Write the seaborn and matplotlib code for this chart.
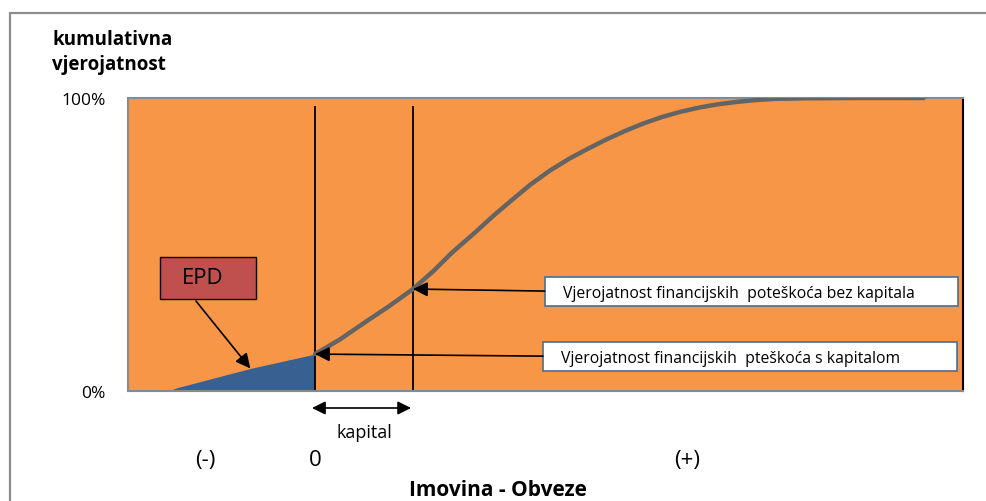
import seaborn as sns
import matplotlib.pyplot as plt
from matplotlib.patches import Rectangle
from matplotlib.lines import Line2D

# x axis: assets - liabilities, in units of capital (0 = no capital, 1 = capital)
# y axis: cumulative probability in %
curve_x = [0.0, 0.25, 0.53, 0.75, 1.0, 1.21, 1.4, 1.63, 1.82, 2.01, 2.2, 2.4, 2.6, 2.78,
           2.97, 3.16, 3.35, 3.54, 3.73, 3.93, 4.1, 4.31, 4.5, 4.69, 5.0, 5.5, 6.21]
curve_y = [12.6, 17.5, 23.9, 28.8, 34.8, 41.0, 47.3, 54.0, 59.8, 65.2, 70.5, 75.3, 79.4, 82.6,
           85.8, 88.7, 91.3, 93.5, 95.3, 96.8, 97.8, 98.7, 99.3, 99.7, 99.9, 100.0, 100.0]

# expected policyholder deficit area (left of zero)
epd_x = [-1.5, -1.4, -0.66, 0.0]
epd_y = [0.0, 1.2, 7.7, 12.6]

vline_x = [0.0, 1.0]
vline_top = 97.3

y_ticks = [0, 100]
y_labels = ["0%", "100%"]
x_ticks = [-1.12, 0.0, 3.8]
x_labels = ["(-)", "0", "(+)"]

ORANGE = "#F79646"
BLUE = "#386192"
GREY = "#646464"
RED = "#C0504D"
BOX_EDGE = "#4A6E96"

sns.set_theme(style="white")
plt.rcParams['font.family'] = ['Open Sans', 'DejaVu Sans']
plt.rcParams['text.color'] = 'black'
plt.rcParams['xtick.color'] = 'black'
plt.rcParams['ytick.color'] = 'black'
plt.rcParams['axes.labelcolor'] = 'black'

W, H = 987, 502
fig = plt.figure(figsize=(W / 100, H / 100), dpi=100)
ax = fig.add_axes([128 / W, (H - 392) / H, (963 - 128) / W, 293 / H])
ax.set_facecolor(ORANGE)

# EPD area and cumulative curve
ax.fill_between(epd_x, 0, epd_y, color=BLUE, linewidth=0, zorder=2)
sns.lineplot(x=curve_x, y=curve_y, ax=ax, color=GREY, linewidth=3.2, zorder=3)
ax.vlines(vline_x, 0, vline_top, color="black", linewidth=1.3, zorder=2)

ax.set_xlim(-1.908, 6.612)
ax.set_ylim(0, 100)

ax.set_yticks(y_ticks, y_labels, fontsize=12.5)
ax.set_xticks(x_ticks, x_labels, fontsize=16)
ax.tick_params(axis='y', length=0, pad=16)
ax.tick_params(axis='x', length=0, pad=42)

for side in ['top', 'left', 'bottom']:
    ax.spines[side].set_color("#8a8a8a")
    ax.spines[side].set_linewidth(1.5)
ax.spines['right'].set_color("black")
ax.spines['right'].set_linewidth(1.5)

ax.set_xlabel("Imovina - Obveze", fontsize=15, fontweight='bold')
ax.xaxis.set_label_coords(0.443, -0.30)

# EPD box and arrow
ax.add_patch(Rectangle((0.038, 0.314), 0.115, 0.143, transform=ax.transAxes,
                       facecolor=RED, edgecolor="black", linewidth=1.0, zorder=4))
ax.text(0.090, 0.386, "EPD", transform=ax.transAxes, ha='center', va='center',
        fontsize=16, zorder=5)
ax.annotate("", xy=(epd_x[2], epd_y[2]), xycoords='data',
            xytext=(0.0814, 0.307), textcoords='axes fraction',
            arrowprops=dict(arrowstyle='-|>', color='black', lw=1.2,
                            mutation_scale=22, shrinkA=0, shrinkB=0), zorder=5)

# explanation boxes
boxes = [
    ((0.499, 0.290, 0.495, 0.099), "Vjerojatnost financijskih  poteškoća bez kapitala",
     (0.499, 0.341), (curve_x[4], curve_y[4])),
    ((0.497, 0.068, 0.496, 0.099), "Vjerojatnost financijskih  pteškoća s kapitalom",
     (0.497, 0.119), (curve_x[0], curve_y[0])),
]
for (bx, by, bw, bh), label, tail, head in boxes:
    ax.add_patch(Rectangle((bx, by), bw, bh, transform=ax.transAxes,
                           facecolor="white", edgecolor=BOX_EDGE, linewidth=1.2, zorder=4))
    ax.text(bx + 0.022, by + bh / 2 - 0.005, label, transform=ax.transAxes,
            ha='left', va='center', fontsize=11.3, zorder=5)
    ax.annotate("", xy=head, xycoords='data', xytext=tail, textcoords='axes fraction',
                arrowprops=dict(arrowstyle='-|>', color='black', lw=1.2,
                                mutation_scale=22, shrinkA=0, shrinkB=0), zorder=5)

# capital double arrow below the axis
ax.annotate("", xy=(vline_x[0] - 0.03, -0.058), xycoords=('data', 'axes fraction'),
            xytext=(vline_x[1] - 0.02, -0.058), textcoords=('data', 'axes fraction'),
            arrowprops=dict(arrowstyle='<|-|>', color='black', lw=1.2,
                            mutation_scale=20, shrinkA=0, shrinkB=0),
            annotation_clip=False)
ax.text(0.5, -0.14, "kapital", transform=ax.get_xaxis_transform(),
        ha='center', va='center', fontsize=13)

# y axis title
fig.text(52 / W, 1 - 30 / H, "kumulativna\nvjerojatnost", ha='left', va='top',
         fontsize=13.5, fontweight='bold', linespacing=1.35)

# outer frame
fig.add_artist(Line2D([10 / W, 1.0], [1 - 14 / H, 1 - 14 / H], color="#8c8c8c", linewidth=1.6))
fig.add_artist(Line2D([10 / W, 10 / W], [0.0, 1 - 14 / H], color="#8c8c8c", linewidth=1.6))

fig.savefig("out.png", dpi=100)
